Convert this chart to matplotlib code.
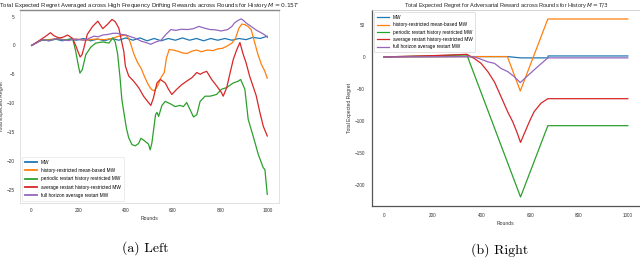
"""Regret comparison figure: drifting rewards (left) and adversarial reward (right)."""
import matplotlib
matplotlib.use('Agg')
import matplotlib.pyplot as plt

plt.rcParams['font.family'] = ['Liberation Sans', 'DejaVu Sans']

COLORS = ['#1f77b4', '#ff7f0e', '#2ca02c', '#d62728', '#9467bd']
LABELS = ['MW',
          'history-restricted mean-based MW',
          'periodic restart history restricted MW',
          'average restart history-restricted MW',
          'full horizon average restart MW']

# ---- left panel data (rounds, regret) ----
left_mw_x = [0, 25, 50, 75, 100, 130, 160, 190, 220, 250, 280, 310, 340, 370, 400, 430, 460,
             490, 520, 550, 580, 610, 640, 670, 700, 730, 760, 790, 820, 850, 880, 910, 940, 970, 1000]
left_mw_y = [0, 0.6, 1.0, 0.8, 1.1, 0.8, 1.1, 0.9, 1.2, 0.8, 1.1, 0.8, 1.2, 0.9, 1.3, 0.9, 1.3,
             0.8, 1.2, 0.8, 1.2, 0.9, 1.3, 0.9, 1.2, 0.8, 1.2, 0.9, 1.2, 0.9, 1.2, 1.0, 1.4, 1.2, 1.6]

left_hr_x = [0, 40, 75, 110, 150, 190, 230, 270, 310, 340, 370, 400, 412, 421, 434, 450, 465, 480,
             495, 508, 520, 535, 550, 563, 572, 584, 600, 620, 640, 660, 680, 700, 720, 745, 770,
             790, 810, 830, 850, 865, 880, 892, 905, 918, 932, 946, 960, 975, 989, 1000]
left_hr_y = [0, 0.9, 1.0, 1.2, 0.9, 1.1, 0.9, 1.1, 1.0, 1.2, 1.6, 1.8, 1.2, 0.2, -1.5, -3.0, -4.0,
             -5.5, -6.8, -7.6, -7.9, -7.0, -5.5, -4.7, -2.2, -0.7, -0.8, -1.0, -1.3, -1.4, -1.0,
             -0.8, -1.1, -0.8, -0.9, -0.6, -0.5, -0.1, 0.4, 1.2, 3.0, 3.7, 3.6, 3.3, 2.7, 0.6,
             -1.5, -3.3, -4.4, -5.7]

left_pr_x = [0, 40, 75, 110, 150, 174, 187, 196, 205, 215, 230, 251, 272, 302, 328, 345, 355, 365,
             375, 383, 393, 402, 412, 426, 440, 454, 464, 478, 496, 503, 510, 518, 526, 532, 539,
             553, 567, 588, 609, 630, 644, 658, 672, 687, 701, 715, 736, 757, 785, 806, 828, 856,
             877, 887, 905, 919, 940, 962, 983, 990, 1000]
left_pr_y = [0, 0.9, 0.9, 1.1, 0.9, 1.2, -1.0, -3.0, -4.8, -4.2, -1.6, -0.3, 0.4, 0.6, 0.4, 1.3,
             0.6, -1.5, -5.5, -9.4, -12.0, -14.3, -16.0, -17.2, -17.4, -17.0, -16.1, -16.5, -17.1,
             -18.1, -17.0, -14.5, -12.0, -11.6, -12.3, -10.4, -9.7, -10.1, -10.6, -10.4, -10.6,
             -9.9, -11.1, -12.4, -12.0, -9.7, -8.8, -8.8, -8.5, -7.6, -7.3, -6.5, -6.2, -5.9, -7.6,
             -12.8, -15.7, -18.9, -21.2, -21.5, -25.8]

left_ar_x = [0, 20, 38, 60, 80, 94, 115, 132, 153, 174, 187, 198, 206, 214, 222, 236, 259, 281,
             302, 323, 341, 355, 370, 383, 391, 398, 412, 433, 454, 475, 496, 506, 517, 532, 546,
             567, 581, 595, 616, 637, 658, 680, 701, 715, 729, 743, 764, 785, 806, 813, 828, 842,
             856, 870, 884, 896, 910, 925, 939, 953, 968, 983, 1000]
left_ar_y = [0, 0.5, 1.0, 1.6, 2.2, 1.7, 1.3, 1.4, 1.8, 1.2, 0.0, -1.2, -2.0, -1.6, -0.4, 1.9, 3.3,
             4.2, 2.9, 3.7, 4.5, 4.1, 3.0, 0.5, -1.0, -3.6, -5.3, -6.2, -7.3, -8.8, -9.9, -10.4,
             -9.1, -6.5, -5.9, -6.5, -7.6, -8.5, -7.6, -6.8, -6.2, -5.6, -4.7, -5.0, -4.7, -4.5,
             -5.9, -7.0, -8.2, -8.8, -7.3, -4.8, -2.4, -0.8, 0.5, -1.3, -3.0, -5.3, -7.0, -8.7,
             -11.5, -14.0, -15.7]

left_fh_x = [0, 20, 45, 73, 95, 116, 137, 158, 180, 201, 222, 243, 264, 283, 302, 323, 345, 365,
             383, 400, 421, 443, 464, 485, 506, 527, 549, 570, 591, 612, 634, 663, 686, 710, 733,
             757, 780, 804, 832, 850, 861, 875, 889, 900, 910, 924, 938, 955, 974, 990, 1000]
left_fh_y = [0, 0.4, 1.0, 0.8, 1.1, 1.1, 0.9, 0.85, 1.1, 1.0, 0.9, 1.2, 1.6, 1.5, 1.8, 1.9, 2.1,
             2.1, 1.9, 1.8, 1.5, 1.2, 0.75, 0.5, 0.2, 0.6, 0.9, 1.9, 2.75, 2.6, 2.8, 2.75, 2.9,
             3.3, 3.0, 2.75, 2.7, 2.5, 2.75, 3.3, 3.9, 4.3, 4.6, 4.3, 3.9, 3.5, 3.1, 2.6, 2.2,
             1.8, 1.4]

# ---- right panel data ----
right_mw_x = [0, 340, 508, 559, 672, 673, 1000]
right_mw_y = [0, 0.5, 0.5, -1.5, -1.5, 1.5, 1.5]
right_hr_x = [0, 340, 506, 559, 672, 1000]
right_hr_y = [0, 0.5, 0.5, -53, 59, 59]
right_pr_x = [0, 340, 560, 672, 1000]
right_pr_y = [0, 3, -218, -107, -107]
right_ar_x = [0, 100, 200, 340, 371, 398, 426, 453, 480, 508, 528, 545, 560, 597, 616, 644, 664,
              672, 1000]
right_ar_y = [0, 1, 2, 4, -2.6, -10, -23, -39, -62, -86, -101, -117, -133, -100, -85, -72, -67,
              -65, -65]
right_fh_x = [0, 340, 371, 398, 426, 453, 480, 508, 535, 559, 590, 631, 672, 1000]
right_fh_y = [0, 0.5, 0, -3.6, -7.7, -10, -18, -23, -31, -40, -29, -15, -1.5, -1.5]

left_series = [(left_mw_x, left_mw_y), (left_hr_x, left_hr_y), (left_pr_x, left_pr_y),
               (left_ar_x, left_ar_y), (left_fh_x, left_fh_y)]
right_series = [(right_mw_x, right_mw_y), (right_hr_x, right_hr_y), (right_pr_x, right_pr_y),
                (right_ar_x, right_ar_y), (right_fh_x, right_fh_y)]

fig = plt.figure(figsize=(6.4, 2.59), dpi=100)

# Left panel
ax1 = fig.add_axes([0.031, 0.216, 0.405, 0.745])
for (x, y), c, lab in zip(left_series, COLORS, LABELS):
    ax1.plot(x, y, color=c, linewidth=0.9, label=lab)
ax1.set_title('Total Expected Regret Averaged across High Frequency Drifting Rewards '
              'across Rounds for History $M = 0.15T$', fontsize=4.35, pad=2, color='#222222')
ax1.set_xlabel('Rounds', fontsize=3.7, labelpad=2, color='#333333')
ax1.set_ylabel('Total Expected Regret', fontsize=3.7, labelpad=2, color='#333333')
ax1.set_xticks([0, 200, 400, 600, 800, 1000])
ax1.set_yticks([5, 0, -5, -10, -15, -20, -25])
ax1.tick_params(labelsize=3.4, length=0, pad=3.5, colors='#333333')
for name, spine in ax1.spines.items():
    spine.set_color('#dddddd')
    spine.set_linewidth(0.6)
ax1.spines['top'].set_color('#888888')
ax1.spines['top'].set_linewidth(1.0)
leg1 = ax1.legend(loc='lower left', fontsize=3.4, handlelength=2.6, labelspacing=0.7,
                  borderpad=0.6, frameon=True, bbox_to_anchor=(0.0, 0.0))
leg1.get_frame().set_edgecolor('#dddddd')
leg1.get_frame().set_linewidth(0.5)
for line in leg1.get_lines():
    line.set_linewidth(1.3)

# Right panel
ax2 = fig.add_axes([0.581, 0.205, 0.419, 0.756])
for (x, y), c, lab in zip(right_series, COLORS, LABELS):
    ax2.plot(x, y, color=c, linewidth=0.9, label=lab)
ax2.set_title('Total Expected Regret for Adversarial Reward across Rounds for History $M = T/3$',
              fontsize=4.1, pad=2, color='#222222')
ax2.set_xlabel('Rounds', fontsize=3.6, labelpad=2, color='#333333')
ax2.set_ylabel('Total Expected Regret', fontsize=3.6, labelpad=2, color='#333333')
ax2.set_xticks([0, 200, 400, 600, 800, 1000])
ax2.set_yticks([50, 0, -50, -100, -150, -200])
ax2.tick_params(labelsize=3.3, length=0, pad=5, colors='#333333')
ax2.spines['left'].set_color('#555555')
ax2.spines['bottom'].set_color('#555555')
ax2.spines['left'].set_linewidth(0.9)
ax2.spines['bottom'].set_linewidth(0.9)
ax2.spines['top'].set_color('#cccccc')
ax2.spines['top'].set_linewidth(0.6)
ax2.spines['right'].set_visible(False)
leg2 = ax2.legend(loc='upper left', fontsize=3.4, handlelength=2.6, labelspacing=0.5,
                  borderpad=0.5, frameon=True)
leg2.get_frame().set_edgecolor('#cccccc')
leg2.get_frame().set_linewidth(0.5)

# Captions
fig.text(0.227, 0.042, '(a) Left', fontsize=10, family='cmr10', ha='center', va='center')
fig.text(0.781, 0.035, '(b) Right', fontsize=10, family='cmr10', ha='center', va='center')

plt.savefig('out.png', dpi=100)
plt.close(fig)
